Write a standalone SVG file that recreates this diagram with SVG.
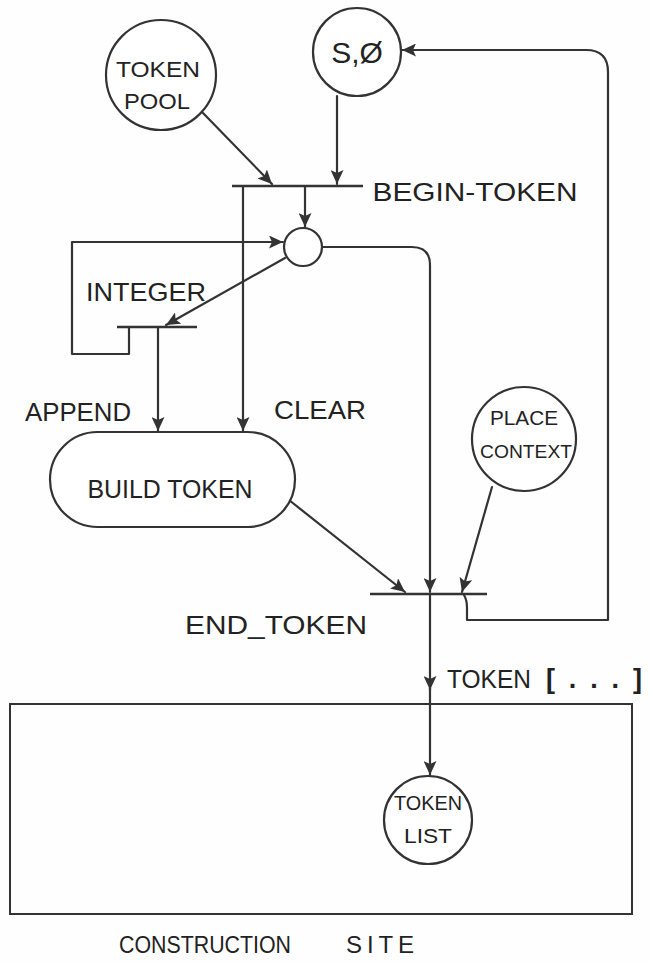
<svg xmlns="http://www.w3.org/2000/svg" width="650" height="962" viewBox="0 0 650 962">
<defs>
<marker id="ah" markerUnits="userSpaceOnUse" markerWidth="15" markerHeight="13" viewBox="0 0 15 13" refX="14" refY="6.5" orient="auto">
<path d="M0,0 L14,6.5 L0,13 L3,6.5 Z" fill="#333"/>
</marker>
</defs>
<style>
.s{fill:none;stroke:#333;stroke-width:2.2;stroke-linecap:round;stroke-linejoin:round}
.node{fill:#fff;stroke:#333;stroke-width:2.2}
.bar{stroke:#333;stroke-width:2.6}
.t{font-family:"Liberation Sans",Arial,sans-serif;fill:#222;text-anchor:middle}
.lbl{font-size:25px}
.in{font-size:22px}
.a{marker-end:url(#ah)}
</style>
<rect width="650" height="962" fill="#fefefe"/>

<g id="construction-site">
<rect x="10" y="704" width="622" height="210" fill="none" stroke="#333" stroke-width="2"/>
<text class="t" font-size="24" x="205" y="953" textLength="172" lengthAdjust="spacingAndGlyphs">CONSTRUCTION</text>
<text class="t" font-size="24" x="380" y="953" textLength="68" lengthAdjust="spacing">SITE</text>
</g>

<g id="connectors">
<line class="s a" x1="203" y1="113" x2="272" y2="184"/>
<line class="s a" x1="337" y1="96" x2="337" y2="184"/>
<line class="s a" x1="305" y1="187" x2="305" y2="227"/>
<line class="s a" x1="243" y1="187" x2="243" y2="431"/>
<line class="s a" x1="285" y1="258" x2="166" y2="325"/>
<line class="s a" x1="158" y1="328" x2="158" y2="431"/>
<path class="s a" d="M129,328 V354 H72 V242 H283"/>
<path class="s a" d="M322,247 H412 Q430,247 430,265 V592"/>
<line class="s a" x1="289" y1="500" x2="405" y2="592"/>
<line class="s a" x1="492" y1="487" x2="462" y2="592"/>
<path class="s a" d="M464,595 Q467,600 467,608 V620 H608 V72 Q608,50 586,50 H402"/>
<line class="s a" x1="430" y1="595" x2="430" y2="690"/>
<line class="s a" x1="430" y1="688" x2="430" y2="775"/>
</g>

<g id="token-pool">
<circle class="node" cx="161" cy="75" r="55"/>
<text class="t in" x="158" y="77" textLength="84" lengthAdjust="spacingAndGlyphs">TOKEN</text>
<text class="t in" x="157" y="109" textLength="66" lengthAdjust="spacingAndGlyphs">POOL</text>
</g>

<g id="s0">
<circle class="node" cx="357" cy="52" r="44"/>
<text class="t" x="357" y="63" font-size="30">S,Ø</text>
</g>

<g id="begin-token">
<line class="bar" x1="232" y1="186" x2="363" y2="186"/>
<text class="t lbl" x="475" y="201" textLength="205" lengthAdjust="spacingAndGlyphs">BEGIN-TOKEN</text>
</g>

<g id="place">
<circle class="node" cx="303" cy="247" r="19"/>
</g>

<g id="integer">
<line class="bar" x1="117" y1="327" x2="197" y2="327"/>
<text class="t lbl" x="146" y="301" textLength="120" lengthAdjust="spacingAndGlyphs">INTEGER</text>
</g>

<g id="append-label">
<text class="t lbl" x="78" y="421" textLength="106" lengthAdjust="spacingAndGlyphs">APPEND</text>
</g>
<g id="clear-label">
<text class="t lbl" x="320" y="419" textLength="92" lengthAdjust="spacingAndGlyphs">CLEAR</text>
</g>

<g id="build-token">
<rect class="node" x="50" y="432" width="245" height="95" rx="47.5"/>
<text class="t lbl" x="170" y="498" textLength="165" lengthAdjust="spacingAndGlyphs">BUILD TOKEN</text>
</g>

<g id="place-context">
<circle class="node" cx="524" cy="439" r="52"/>
<text class="t" x="524" y="425" font-size="20" textLength="68" lengthAdjust="spacingAndGlyphs">PLACE</text>
<text class="t" x="526" y="458" font-size="18" textLength="92" lengthAdjust="spacingAndGlyphs">CONTEXT</text>
</g>

<g id="end-token">
<line class="bar" x1="370" y1="594" x2="487" y2="594"/>
<text class="t lbl" x="276" y="634" textLength="182" lengthAdjust="spacingAndGlyphs">END_TOKEN</text>
</g>

<g id="token-label">
<text class="t lbl" x="489" y="688" textLength="84" lengthAdjust="spacingAndGlyphs">TOKEN</text>
<text class="t" font-size="27" font-weight="bold" x="594" y="688" textLength="96" lengthAdjust="spacing">[...]</text>
</g>

<g id="token-list">
<circle class="node" cx="428" cy="820" r="44"/>
<text class="t" x="428" y="810" font-size="20" textLength="68" lengthAdjust="spacingAndGlyphs">TOKEN</text>
<text class="t" x="428" y="843" font-size="20" textLength="48" lengthAdjust="spacingAndGlyphs">LIST</text>
</g>
</svg>
